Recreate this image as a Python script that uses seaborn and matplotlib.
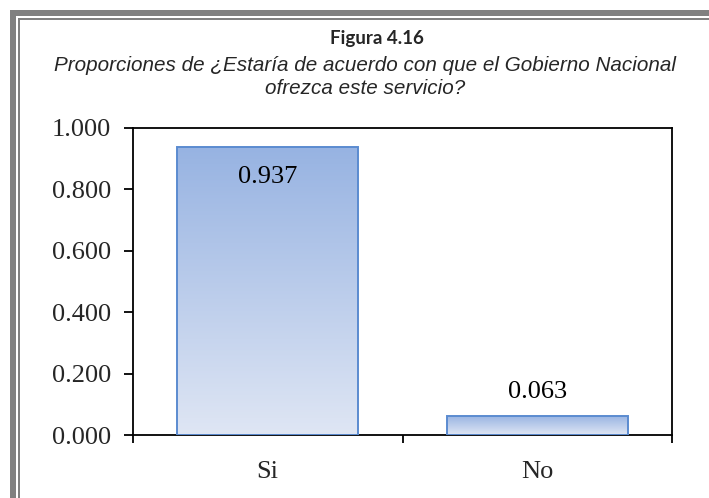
import matplotlib
matplotlib.use("Agg")
import matplotlib.pyplot as plt
from matplotlib.colors import LinearSegmentedColormap
from matplotlib.patches import Rectangle
import numpy as np
import pandas as pd
import seaborn as sns

categories = ["Si", "No"]
proportions = [0.937, 0.063]
y_ticks = [0.0, 0.2, 0.4, 0.6, 0.8, 1.0]
title = "Figura 4.16"
subtitle = ("Proporciones de ¿Estaría de acuerdo con que el Gobierno Nacional\n"
            "ofrezca este servicio?")

W, H = 709, 498

sns.set_theme(style="white")
plt.rcParams["font.family"] = ["Liberation Serif", "DejaVu Serif"]

df = pd.DataFrame({"respuesta": categories, "proporcion": proportions})

fig = plt.figure(figsize=(W / 100, H / 100), dpi=100)
ax = fig.add_axes([133 / W, 1 - 435 / H, (672 - 133) / W, (435 - 128) / H])

sns.barplot(data=df, x="respuesta", y="proporcion", ax=ax, width=0.67,
            color="#c5d4ee", edgecolor="#5b8bd0", linewidth=1.4, saturation=1)

# Excel-style vertical gradient inside each bar
grad = LinearSegmentedColormap.from_list("bar", ["#dfe6f4", "#97b3e2"])
for patch in ax.patches:
    x0, y0 = patch.get_x(), patch.get_y()
    w, h = patch.get_width(), patch.get_height()
    patch.set_facecolor("none")
    patch.set_zorder(3)
    im = ax.imshow(np.linspace(0, 1, 256).reshape(-1, 1), cmap=grad,
                   origin="lower", extent=[x0, x0 + w, y0, y0 + h],
                   aspect="auto", zorder=2)
    im.set_clip_path(patch)

# value labels: inside end for tall bar, outside end for short one
for patch, val in zip(ax.patches, proportions):
    cx = patch.get_x() + patch.get_width() / 2
    top = patch.get_y() + patch.get_height()
    off = -21.5 if val > 0.5 else 17
    ax.annotate(f"{val:.3f}", (cx, top), xytext=(0, off), textcoords="offset points",
                ha="center", va="center", fontsize=19, color="black")

ax.set_xlim(-0.5, 1.5)
ax.set_ylim(0, 1)
ax.set_yticks(y_ticks)
ax.set_yticklabels([f"{v:.3f}" for v in y_ticks])
ax.set_xticks([0, 1])
ax.set_xticklabels(categories)
ax.set_xticks([-0.5, 0.5, 1.5], minor=True)
ax.set_xlabel("")
ax.set_ylabel("")

ax.tick_params(axis="y", which="major", direction="out", length=6.5, width=1.3,
               labelsize=19, pad=9.5, left=True, color="black")
ax.tick_params(axis="x", which="major", length=0, labelsize=19, pad=18.5)
ax.tick_params(axis="x", which="minor", direction="out", length=6, width=1.3,
               bottom=True, color="black")
for sp in ax.spines.values():
    sp.set_color("black")
    sp.set_linewidth(1.3)

# titles
fig.text(377 / W, 1 - 38 / H, title, ha="center", va="center",
         fontsize=13.5, fontweight="bold", family=["Lato", "DejaVu Sans"])
fig.text(365 / W, 1 - 77 / H, subtitle, ha="center", va="center",
         fontsize=14.9, style="italic", linespacing=1.3,
         family=["Liberation Sans", "DejaVu Sans"])

# gray page frame (top and left double rule)
gray = "#808080"
fig.add_artist(Rectangle((10 / W, 0), 6 / W, 1 - 10 / H, transform=fig.transFigure,
                         facecolor=gray, edgecolor="none"))
fig.add_artist(Rectangle((10 / W, 1 - 16 / H), 1, 6 / H, transform=fig.transFigure,
                         facecolor=gray, edgecolor="none"))
fig.add_artist(Rectangle((18 / W, 0), 2 / W, 1 - 18 / H, transform=fig.transFigure,
                         facecolor=gray, edgecolor="none"))
fig.add_artist(Rectangle((18 / W, 1 - 20 / H), 1, 2 / H, transform=fig.transFigure,
                         facecolor=gray, edgecolor="none"))

fig.savefig("out.png", dpi=100)
